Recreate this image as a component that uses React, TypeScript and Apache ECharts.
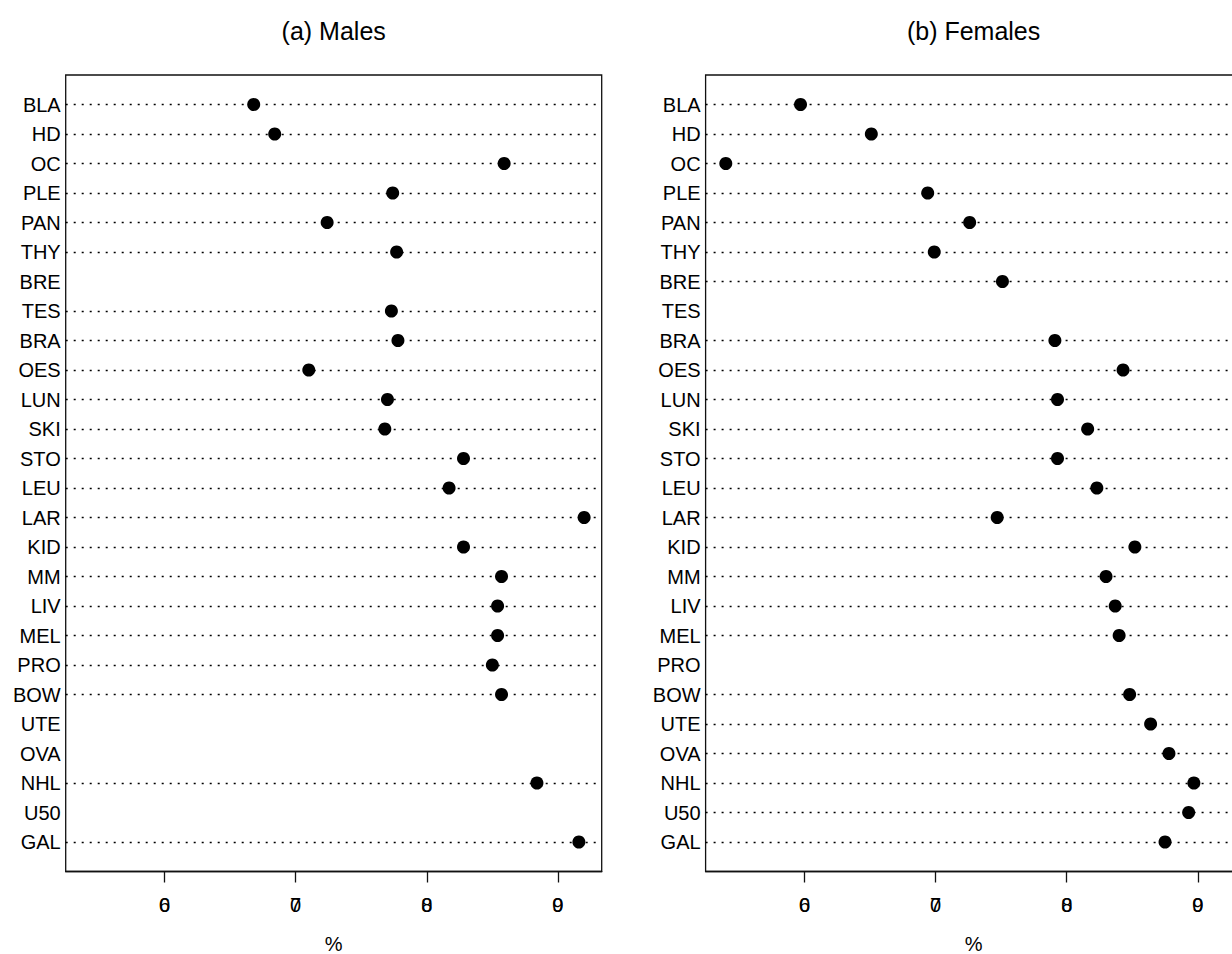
import React, { useEffect, useRef } from "react";
import * as echarts from "echarts";

const categories = [
  "BLA", "HD", "OC", "PLE", "PAN", "THY", "BRE", "TES", "BRA", "OES", "LUN", "SKI", "STO",
  "LEU", "LAR", "KID", "MM", "LIV", "MEL", "PRO", "BOW", "UTE", "OVA", "NHL", "U50", "GAL",
];
const malesPct = [
  66.8, 68.4, 85.9, 77.4, 72.4, 77.7, null, 77.3, 77.8, 71.0, 77.0, 76.8, 82.8,
  81.7, 92.0, 82.8, 85.7, 85.4, 85.4, 85.0, 85.7, null, null, 88.4, null, 91.6,
];
const femalesPct = [
  59.7, 65.1, 54.0, 69.4, 72.6, 69.9, 75.1, null, 79.1, 84.3, 79.3, 81.6, 79.3,
  82.3, 74.7, 85.2, 83.0, 83.7, 84.0, null, 84.8, 86.4, 87.8, 89.7, 89.3, 87.5,
];
const tickValues = [60, 70, 80, 90];
const panelTitles = ["(a) Males", "(b) Females"];
const axisTitle = "%";

const FONT = "'Liberation Sans', Arial, Helvetica, sans-serif";
const X_MIN = 52.46;
const X_MAX = 93.34;
const GRID_TOP = 75;
const GRID_H = 796.5;
const GRID_W = 536;
const GRID_LEFTS = [65.7, 705.6];

export default function App() {
  const ref = useRef<HTMLDivElement>(null);

  useEffect(() => {
    if (!ref.current) return;
    const chart = echarts.init(ref.current, null, { renderer: "svg" });
    const panels = [malesPct, femalesPct];

    const grids = GRID_LEFTS.map((left) => ({
      left,
      top: GRID_TOP,
      width: GRID_W,
      height: GRID_H,
      show: true,
      containLabel: false,
      outerBoundsMode: "none",
      borderColor: "#111",
      borderWidth: 1.3,
      backgroundColor: "transparent",
    }));

    const xAxes: any[] = [];
    const yAxes: any[] = [];
    const series: any[] = [];

    panels.forEach((vals, gi) => {
      xAxes.push({
        gridIndex: gi,
        type: "value",
        min: X_MIN,
        max: X_MAX,
        position: "bottom",
        axisLine: { show: true, onZero: false, lineStyle: { color: "#111", width: 1.3 } },
        axisTick: { show: true, length: 11, customValues: tickValues, lineStyle: { color: "#111", width: 1.3 } },
        axisLabel: {
          customValues: tickValues,
          formatter: (v: number) => String(Math.floor(v / 10)),
          fontSize: 20,
          color: "#000",
          fontFamily: FONT,
          margin: 23,
        },
        splitLine: { show: false },
      });
      xAxes.push({
        gridIndex: gi,
        type: "value",
        min: X_MIN,
        max: X_MAX,
        position: "bottom",
        axisLine: { show: false, onZero: false },
        axisTick: { show: false },
        axisLabel: {
          customValues: tickValues,
          formatter: (v: number) => String(Math.round(v) % 10),
          fontSize: 20,
          color: "#000",
          fontFamily: FONT,
          margin: 23,
        },
        splitLine: { show: false },
      });
      yAxes.push({
        gridIndex: gi,
        type: "value",
        min: 0,
        max: categories.length + 1,
        interval: 1,
        inverse: true,
        axisLine: { show: false },
        axisTick: { show: false },
        splitLine: { show: false },
        axisLabel: {
          formatter: (v: number) => categories[v - 1] ?? "",
          fontSize: 20,
          color: "#000",
          fontFamily: FONT,
          margin: 5,
        },
      });

      const data: number[][] = [];
      const rows: any[] = [];
      vals.forEach((v, i) => {
        if (v !== null && v !== undefined) {
          data.push([v as number, i + 1]);
          rows.push({ yAxis: i + 1 });
        }
      });

      series.push({
        type: "scatter",
        xAxisIndex: gi * 2,
        yAxisIndex: gi,
        symbol: "circle",
        symbolSize: 13,
        itemStyle: { color: "#000", opacity: 1 },
        data,
        silent: true,
        z: 3,
        markLine: {
          silent: true,
          z: 2,
          symbol: ["none", "none"],
          label: { show: false },
          lineStyle: { type: [2, 6], color: "#000", width: 1.3, opacity: 1 },
          emphasis: { disabled: true },
          data: rows,
        },
      });
    });

    const graphics: any[] = [];
    GRID_LEFTS.forEach((left, gi) => {
      const cx = left + GRID_W / 2;
      graphics.push({
        type: "text",
        x: cx,
        y: 31,
        style: {
          text: panelTitles[gi],
          fontSize: 25,
          fontFamily: FONT,
          fill: "#000",
          textAlign: "center",
          textVerticalAlign: "middle",
        },
      });
      graphics.push({
        type: "text",
        x: cx,
        y: 944,
        style: {
          text: axisTitle,
          fontSize: 20,
          fontFamily: FONT,
          fill: "#000",
          textAlign: "center",
          textVerticalAlign: "middle",
        },
      });
    });

    chart.setOption({
      animation: false,
      backgroundColor: "#fff",
      grid: grids,
      xAxis: xAxes,
      yAxis: yAxes,
      series,
      graphic: graphics,
    });

    return () => chart.dispose();
  }, []);

  return (
    <div
      ref={ref}
      style={{ position: "fixed", left: 0, top: 0, width: 1232, height: 954, background: "#fff" }}
    />
  );
}
